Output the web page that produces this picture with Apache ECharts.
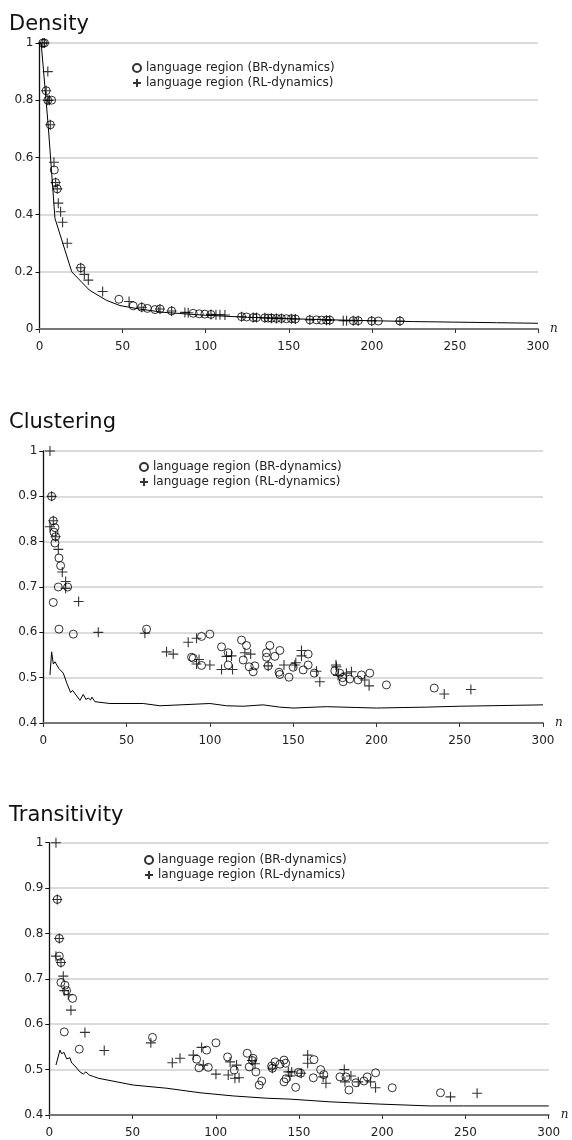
<!DOCTYPE html>
<html>
<head>
<meta charset="utf-8">
<script src="https://cdn.jsdelivr.net/npm/echarts@6/dist/echarts.min.js"></script>
<style>html,body{margin:0;padding:0;background:#fff;}#c{width:572px;height:1140px;}</style>
</head>
<body>
<div id="c"></div>
<script>
// ---------- data ----------
var panelTitles = ['Density', 'Clustering', 'Transitivity'];
var seriesNames = ['language region (BR-dynamics)', 'language region (RL-dynamics)'];
var xTicks = [0, 50, 100, 150, 200, 250, 300];
var densityTicks = [0, 0.2, 0.4, 0.6, 0.8, 1];
var coeffTicks = [0.4, 0.5, 0.6, 0.7, 0.8, 0.9, 1];

var densityBR = [[2,1],[3,1],[4,0.833],[5,0.8],[7.3,0.8],[6.5,0.714],[8.9,0.556],[9.7,0.512],[10.7,0.49],[24.8,0.214],[47.8,0.104],[56.4,0.081],[61.5,0.076],[64.9,0.072],[69.5,0.068],[72.5,0.07],[79.5,0.063],[92.5,0.055],[96.1,0.053],[99.5,0.052],[103.2,0.051],[121.6,0.043],[124.6,0.042],[128.6,0.04],[130.6,0.04],[135.6,0.039],[137.6,0.038],[139.6,0.038],[142.6,0.037],[145.6,0.037],[148.6,0.036],[151.6,0.036],[154,0.035],[162.7,0.032],[166.7,0.032],[169.7,0.031],[172.7,0.031],[174.7,0.031],[188.8,0.029],[191.8,0.029],[199.9,0.028],[203.9,0.028],[216.9,0.028]];
var densityRL = [[2,1],[3,1],[5,0.9],[4,0.833],[5,0.8],[6,0.8],[6.5,0.714],[8.7,0.583],[9.7,0.512],[10.7,0.49],[11.3,0.44],[12.7,0.41],[13.9,0.373],[16.7,0.3],[24.8,0.214],[27,0.191],[29.4,0.171],[38,0.131],[53.9,0.096],[61.5,0.076],[72.5,0.07],[79.5,0.063],[87.5,0.058],[89.5,0.057],[103.2,0.051],[106.2,0.05],[108.6,0.05],[111.6,0.049],[121.6,0.043],[128.6,0.04],[130.6,0.04],[135.6,0.039],[139.6,0.038],[142.6,0.037],[145.6,0.037],[151.6,0.036],[154,0.035],[162.7,0.032],[172.7,0.031],[174.7,0.031],[182.8,0.029],[184.8,0.029],[188.8,0.029],[191.8,0.029],[199.9,0.028],[216.9,0.028]];
var densityMean = [[1,1],[5.3,0.707],[9.3,0.387],[19.4,0.2],[30,0.136],[40.4,0.1],[48.4,0.082],[60,0.07],[75,0.058],[100,0.048],[125,0.041],[150,0.036],[175,0.032],[200,0.029],[225,0.026],[250,0.024],[275,0.022],[300,0.02]];

var clusteringBR = [[5,0.9],[6,0.846],[7,0.831],[6.4,0.821],[7.4,0.811],[7,0.797],[9.4,0.764],[10.4,0.747],[9,0.7],[14.6,0.7],[6,0.666],[9.4,0.607],[18,0.596],[62,0.607],[95,0.591],[100,0.596],[89,0.545],[90,0.543],[95,0.527],[107,0.568],[111,0.555],[111,0.528],[119,0.583],[122,0.571],[120,0.539],[123.6,0.524],[127,0.526],[126,0.513],[134,0.555],[134,0.545],[136,0.571],[135,0.526],[139,0.547],[142,0.56],[141.5,0.512],[142,0.507],[147.5,0.501],[150,0.523],[159,0.552],[159,0.528],[156,0.517],[162.7,0.51],[175,0.515],[178,0.51],[179.7,0.5],[180,0.491],[184,0.497],[189,0.495],[191,0.506],[196,0.51],[206,0.484],[234.7,0.477]];
var clusteringRL = [[4,1],[5,0.9],[4,0.833],[6,0.846],[7.4,0.811],[9,0.783],[11.4,0.733],[13.4,0.712],[13.4,0.697],[21.2,0.668],[33,0.6],[61,0.598],[74,0.557],[78,0.552],[87,0.578],[92,0.587],[92,0.53],[93.5,0.54],[100,0.528],[107,0.518],[113.6,0.518],[110,0.547],[113,0.548],[121,0.555],[124.5,0.552],[135,0.526],[144.5,0.528],[151,0.528],[151.6,0.533],[155,0.56],[155,0.548],[164,0.514],[166,0.491],[175.7,0.528],[176,0.524],[177,0.505],[182,0.51],[185,0.513],[193,0.495],[195.6,0.482],[240.7,0.464],[256.7,0.474]];
var clusteringMean = [[4,0.506],[5,0.557],[6,0.53],[7,0.535],[9.4,0.52],[12,0.51],[14,0.489],[16.4,0.467],[17.6,0.472],[21,0.455],[22,0.45],[24,0.463],[25.6,0.452],[27,0.455],[28.4,0.451],[29.2,0.457],[31,0.447],[40,0.443],[60,0.443],[70,0.438],[100,0.443],[110,0.438],[120,0.437],[132,0.44],[142,0.435],[150,0.433],[170,0.436],[200,0.433],[230,0.435],[250,0.437],[300,0.44]];

var transitivityBR = [[4.8,0.875],[6,0.789],[6,0.75],[7,0.736],[7,0.692],[9.4,0.686],[10.4,0.674],[14,0.657],[9,0.583],[18,0.545],[62,0.571],[88.5,0.523],[89.9,0.504],[94.5,0.543],[95.5,0.505],[100.1,0.559],[107.1,0.528],[111.1,0.499],[118.9,0.536],[120.1,0.506],[122.4,0.525],[122,0.52],[124.1,0.495],[126.1,0.466],[127.6,0.475],[133.6,0.508],[134,0.503],[135.6,0.517],[138.6,0.512],[141,0.521],[142,0.514],[141,0.473],[142.2,0.48],[148,0.461],[149.6,0.494],[151,0.492],[159,0.522],[158.6,0.482],[163,0.5],[164.9,0.489],[174.6,0.484],[178.2,0.484],[180,0.455],[184.2,0.471],[189,0.475],[191,0.484],[196,0.493],[206,0.46],[235,0.449]];
var transitivityRL = [[4,1],[4.8,0.875],[6,0.789],[4,0.75],[7,0.736],[8.4,0.706],[9,0.674],[11.4,0.665],[13,0.631],[21.4,0.582],[33,0.542],[61,0.559],[73.9,0.515],[78.5,0.525],[86.5,0.532],[91.5,0.549],[92.5,0.51],[100.1,0.49],[108.6,0.517],[107.5,0.488],[111.5,0.481],[112.5,0.51],[114,0.482],[121.7,0.52],[123.6,0.513],[134,0.503],[143.6,0.495],[144.6,0.486],[145.6,0.495],[151.3,0.492],[155.2,0.532],[155.2,0.514],[164.5,0.484],[166.2,0.47],[177.2,0.5],[177.6,0.473],[181.2,0.486],[185.6,0.473],[193,0.473],[196,0.46],[241,0.44],[257,0.448]];
var transitivityMean = [[4,0.51],[6.4,0.543],[7.4,0.535],[8.8,0.538],[10.4,0.524],[12.4,0.526],[13.4,0.515],[15.4,0.508],[18.4,0.495],[20.4,0.49],[22,0.495],[24,0.488],[26.4,0.485],[29.4,0.481],[50.4,0.466],[70.5,0.459],[90.5,0.449],[110.5,0.442],[130.5,0.437],[144.6,0.435],[168.6,0.429],[198.6,0.424],[228.6,0.42],[248.7,0.42],[300,0.42]];

// ---------- chart ----------
var FONT = 'DejaVu Sans';
var PLUS = 'path://M4.45,0H5.55V10H4.45Z M0,4.45H10V5.55H0Z';
var grids = [
  {left: 39.5, right: 34, top: 43, height: 286},
  {left: 43.3, right: 29, top: 451, height: 272},
  {left: 49.3, right: 23.3, top: 842.7, height: 272.3}
];
var yTickSets = [densityTicks, coeffTicks, coeffTicks];
var brSets = [densityBR, clusteringBR, transitivityBR];
var rlSets = [densityRL, clusteringRL, transitivityRL];
var meanSets = [densityMean, clusteringMean, transitivityMean];
var titleTops = [14, 412, 805];
var legendPos = [{left: 132, top: 62}, {left: 139, top: 461}, {left: 144, top: 854}];

var option = {
  animation: false,
  backgroundColor: '#fff',
  textStyle: {fontFamily: FONT},
  title: [], grid: [], xAxis: [], yAxis: [], legend: [], series: []
};

for (var i = 0; i < 3; i++) {
  var yt = yTickSets[i];
  option.title.push({text: panelTitles[i], left: 9, top: titleTops[i], padding: 0,
    textStyle: {fontFamily: FONT, fontSize: 21, fontWeight: 'normal', color: '#111'}});
  option.grid.push(grids[i]);
  option.xAxis.push({
    type: 'value', gridIndex: i, min: xTicks[0], max: xTicks[xTicks.length - 1], interval: xTicks[1] - xTicks[0],
    name: 'n', nameLocation: 'end', nameGap: 12,
    nameTextStyle: {fontFamily: 'DejaVu Serif', fontStyle: 'italic', fontSize: 12, color: '#222', verticalAlign: 'middle'},
    axisLine: {show: true, onZero: false, lineStyle: {color: '#777', width: 2}},
    axisTick: {show: true, inside: false, length: 4, lineStyle: {color: '#333', width: 1}},
    axisLabel: {fontFamily: FONT, fontSize: 12, color: '#222', margin: 12},
    splitLine: {show: false}
  });
  option.yAxis.push({
    type: 'value', gridIndex: i, min: yt[0], max: yt[yt.length - 1], interval: +(yt[1] - yt[0]).toFixed(2),
    axisLine: {show: true, onZero: false, lineStyle: {color: '#111', width: 1.3}},
    axisTick: {show: true, length: 4, lineStyle: {color: '#111', width: 1}},
    axisLabel: {fontFamily: FONT, fontSize: 12, color: '#222', margin: 6,
      formatter: function (v) { return +v.toFixed(2) + ''; }},
    splitLine: {show: true, lineStyle: {color: '#cfcfcf', width: 1.5}}
  });
  option.legend.push({
    show: true, orient: 'vertical', left: legendPos[i].left, top: legendPos[i].top,
    itemWidth: 8, itemHeight: 8, itemGap: 3, padding: 0, selectedMode: false,
    textStyle: {fontFamily: FONT, fontSize: 12, color: '#222'},
    data: [
      {name: seriesNames[0], icon: 'circle', itemStyle: {color: 'rgba(0,0,0,0)', borderColor: '#000', borderWidth: 2}},
      {name: seriesNames[1], icon: 'path://M3.7,0H6.3V10H3.7Z M0,3.7H10V6.3H0Z', itemStyle: {color: '#000', borderWidth: 0}}
    ]
  });
  option.series.push({
    name: 'mean' + i, type: 'line', xAxisIndex: i, yAxisIndex: i, data: meanSets[i],
    showSymbol: false, symbol: 'none', lineStyle: {color: '#000', width: 1}, z: 2, silent: true
  });
  option.series.push({
    name: seriesNames[0], type: 'scatter', xAxisIndex: i, yAxisIndex: i, data: brSets[i],
    symbol: 'circle', symbolSize: 8,
    itemStyle: {color: 'rgba(0,0,0,0)', borderColor: '#000', borderWidth: 1}, z: 3
  });
  option.series.push({
    name: seriesNames[1], type: 'scatter', xAxisIndex: i, yAxisIndex: i, data: rlSets[i],
    symbol: PLUS, symbolSize: 10,
    itemStyle: {color: '#000', borderWidth: 0}, z: 4
  });
}

var chart = echarts.init(document.getElementById('c'), null, {renderer: 'canvas'});
chart.setOption(option);
</script>
</body>
</html>
